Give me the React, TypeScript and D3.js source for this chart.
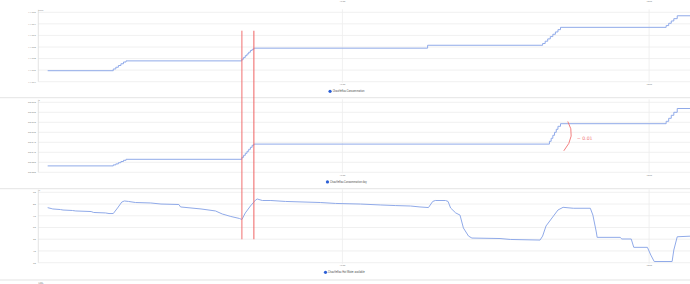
import React from "react";
import * as d3 from "d3";

// ---- data ----
const X_START = "06:03";
const X_END = "18:48";

const energyTicks = [11.224, 11.226, 11.228, 11.23, 11.232, 11.234, 11.236];
const energyTimes = ["06:14","07:31","07:34","07:37","07:40","07:43","07:46","10:02","10:04","10:06","10:08","10:10","10:12","10:14","10:16","13:40","15:55","15:58","16:01","16:04","16:07","16:10","16:13","16:16","18:20","18:23","18:26","18:29","18:33","18:48"];
const energyValues = [11.2259,11.2262,11.2265,11.2268,11.2271,11.2274,11.2276,11.2279,11.2282,11.2285,11.2288,11.2291,11.2294,11.2296,11.2298,11.2303,11.2306,11.231,11.2314,11.2318,11.2322,11.2326,11.233,11.2334,11.2337,11.2341,11.2345,11.2349,11.2354,11.2354];

const dayTicks = [60.0, 60.005, 60.01, 60.015, 60.02, 60.025, 60.03, 60.035];
const dayTimes = ["06:14","07:31","07:34","07:37","07:40","07:43","07:46","10:02","10:04","10:06","10:08","10:10","10:12","10:14","10:16","16:03","16:05","16:07","16:09","16:11","16:13","16:16","18:20","18:23","18:26","18:29","18:33","18:48"];
const dayValues = [60.0032,60.0037,60.0042,60.0048,60.0054,60.006,60.0065,60.0075,60.0085,60.0095,60.0105,60.0115,60.0125,60.0135,60.0141,60.0155,60.017,60.0185,60.02,60.0215,60.023,60.0243,60.0255,60.027,60.0285,60.03,60.0319,60.0319];

const waterTicks = [30, 40, 50, 60, 70, 80, 90];
const waterTimes = ["06:14","06:18","06:20","06:29","06:32","06:43","06:47","07:05","07:08","07:22","07:26","07:31","07:36","07:41","07:44","07:49","07:57","08:15","08:27","08:48","08:50","09:14","09:31","09:39","09:49","09:59","10:02","10:06","10:12","10:18","10:20","10:26","10:36","10:53","11:34","11:52","12:21","12:45","13:02","13:20","13:31","13:41","13:46","13:49","14:01","14:04","14:07","14:13","14:18","14:22","14:28","14:32","15:05","15:17","15:52","15:55","15:59","16:06","16:13","16:19","16:31","16:51","16:54","16:58","16:59","17:26","17:28","17:39","17:42","17:58","18:02","18:06","18:27","18:29","18:33","18:48"];
const waterValues = [76.9,76.2,75.8,75.3,74.9,74.5,74.1,73.6,72.8,72.4,71.9,71.9,76.6,81.7,82.6,82.2,81.3,80.9,80.0,79.6,77.5,75.8,74.1,71.5,69.4,67.7,66.8,72.4,78.3,83.4,84.3,83.0,83.0,82.2,81.3,80.5,80.0,79.2,78.7,78.3,77.5,77.0,82.2,83.0,83.0,82.2,76.6,72.4,70.6,59.6,52.7,51.0,50.6,49.8,49.3,52.7,61.3,68.1,74.9,77.2,76.4,76.4,70.6,56.2,51.6,51.6,50.2,50.2,43.1,43.1,36.5,31.0,31.0,40.8,52.1,52.6];

const markerTimes = ["10:02", "10:16"];
const legendNames = ["ChauffeEau Consommation", "ChauffeEau Consommation day", "ChauffeEau Hot Water available"];
const unitLabels = ["kWh", "€", "%"];
const annotationText = "~ 0.01";

// ---- layout ----
const W = 690, H = 284;
const LEFT = 38.3, RIGHT = 690;
const FONT = "Roboto, 'DejaVu Sans', sans-serif";
const LINE = "#90aae9";
const GRID = "#ececec";

const parse = d3.timeParse("%H:%M");
const fmt = d3.timeFormat("%H:%M");

export default function App() {
  const x = d3.scaleTime().domain([parse(X_START)!, parse(X_END)!]).range([LEFT, RIGHT]);
  const xt = x.ticks(d3.timeHour.every(6)!);

  const panels = [
    { ticks: energyTicks, times: energyTimes, values: energyValues, top: 12.3, bottom: 81.7, sep: 97.7, fmt: (v: number) => v.toFixed(3), curve: d3.curveStepAfter },
    { ticks: dayTicks, times: dayTimes, values: dayValues, top: 102.3, bottom: 172.3, sep: 188.7, fmt: (v: number) => v.toFixed(3), curve: d3.curveStepAfter },
    { ticks: waterTicks, times: waterTimes, values: waterValues, top: 192.3, bottom: 262.7, sep: 280, fmt: (v: number) => String(v), curve: d3.curveLinear },
  ];

  return (
    <svg width={W} height={H} style={{ position: "absolute", left: 0, top: 0, background: "#fff" }} fontFamily={FONT}>
      <rect x={0} y={0} width={W} height={H} fill="#fff" />
      {/* cut-off labels of neighbouring panels */}
      {xt.map((t, i) => (
        <text key={"pt" + i} x={x(t)} y={1.6} fontSize={2.3} fill="#888" textAnchor="middle">{fmt(t)}</text>
      ))}
      <text x={38.5} y={284.5} fontSize={2.6} fill="#888">kWh</text>
      {panels.map((p, pi) => {
        const y = d3.scaleLinear().domain([d3.min(p.ticks)!, d3.max(p.ticks)!]).range([p.bottom, p.top]);
        const pts = p.times.map((t, i) => [parse(t)!, p.values[i]] as [Date, number]);
        const path = d3.line<[Date, number]>().x(d => x(d[0])).y(d => y(d[1])).curve(p.curve)(pts) || "";
        const name = legendNames[pi];
        const fs = 2.6;
        const tw = name.length * fs * 0.5;
        const cx = 346.5 - (tw + 3) / 2;
        const ly = p.bottom + 9.6;
        return (
          <g key={pi}>
            {p.ticks.map((v, i) => (
              <g key={i}>
                <line x1={LEFT} x2={RIGHT} y1={y(v)} y2={y(v)} stroke={GRID} strokeWidth={0.8} />
                <text x={35.8} y={y(v) + 0.9} fontSize={2.5} fill="#888" textAnchor="end">{p.fmt(v)}</text>
              </g>
            ))}
            {xt.map((t, i) => (
              <g key={"x" + i}>
                <line x1={x(t)} x2={x(t)} y1={p.top - 3} y2={p.bottom + 1} stroke={GRID} strokeWidth={0.8} />
                <text x={x(t)} y={p.bottom + 3.3} fontSize={2.3} fill="#888" textAnchor="middle">{fmt(t)}</text>
              </g>
            ))}
            <line x1={LEFT} x2={LEFT} y1={p.top - 2.5} y2={p.bottom} stroke="#d8d8d8" strokeWidth={0.7} />
            <text x={38.6} y={p.top - 1.6} fontSize={2.4} fill="#888">{unitLabels[pi]}</text>
            <path d={path} fill="none" stroke={LINE} strokeWidth={1} />
            <circle cx={cx} cy={ly} r={1.6} fill="#2c5fd6" />
            <text x={cx + 2.6} y={ly + 0.9} fontSize={fs} fill="#555">{name}</text>
            <line x1={0} x2={W} y1={p.sep} y2={p.sep} stroke="#dcdcdc" strokeWidth={0.8} />
          </g>
        );
      })}
      {/* red hand annotations */}
      {markerTimes.map((t, i) => (
        <line key={"m" + i} x1={x(parse(t)!)} x2={x(parse(t)!)} y1={30.7} y2={239.3}
          stroke="#f06a6a" strokeWidth={i === 0 ? 1 : 1.4} opacity={i === 0 ? 0.95 : 0.75} />
      ))}
      <path d="M567.8,121.5 Q576.5,136 563.8,150.8" fill="none" stroke="#f07070" strokeWidth={0.9} />
      <text x={577} y={139.6} fontSize={4.6} fill="#f07a7a" fontFamily="'DejaVu Sans', sans-serif">{annotationText}</text>
    </svg>
  );
}
